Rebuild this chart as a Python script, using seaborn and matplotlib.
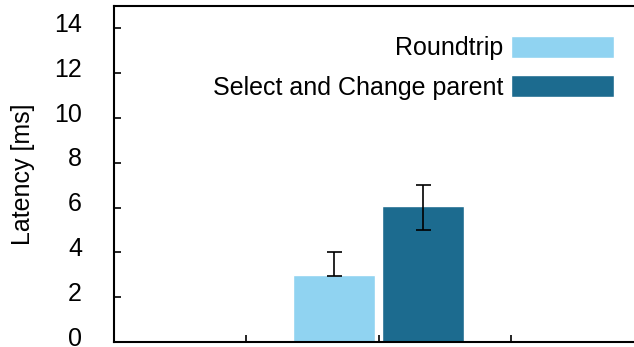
import numpy as np
import pandas as pd
import matplotlib
matplotlib.use("Agg")
import matplotlib.pyplot as plt
import matplotlib.transforms as mtrans
import seaborn as sns

# data
series = ["Roundtrip", "Select and Change parent"]
latency = [3.0, 6.05]
err_low = [2.95, 5.0]
err_high = [4.0, 7.0]
colors = ["#90d3f1", "#1c6b8f"]

df = pd.DataFrame({"group": [""] * len(series), "series": series, "latency": latency})

sns.set_style("ticks")
plt.rcParams["font.family"] = ["Liberation Sans", "DejaVu Sans"]
plt.rcParams["font.size"] = 18
for k in ["text.color", "axes.labelcolor", "xtick.color", "ytick.color"]:
    plt.rcParams[k] = "black"

fig = plt.figure(figsize=(6.34, 3.47), dpi=100)
# axes run past the right edge of the picture, as in the reference
ax = fig.add_axes([114 / 634, 5 / 347, 529 / 634, 336 / 347])

sns.barplot(data=df, x="group", y="latency", hue="series", hue_order=series,
            palette=colors, width=1.34, gap=0.075, errorbar=None,
            saturation=1, ax=ax)

# asymmetric error bars on top of each bar
xs = [p.get_x() + p.get_width() / 2 for p in ax.patches[:len(series)]]
vals = np.array(latency)
yerr = [vals - np.array(err_low), np.array(err_high) - vals]
ax.errorbar(xs, vals, yerr=yerr, fmt="none", ecolor="black",
            elinewidth=1.2, capsize=5.4, capthick=1.2)

ax.set_xlim(-2, 2)
ax.set_ylim(0, 15)
ax.set_xticks([-1, 0, 1])
ax.set_xticklabels([])
ax.set_yticks(range(0, 15, 2))
ax.set_xlabel("")
ax.set_ylabel("Latency [ms]", labelpad=14, fontsize=18)
ax.tick_params(axis="both", direction="in", length=5, width=1.2, color="black")
ax.tick_params(axis="y", pad=23, labelsize=18)
ax.tick_params(axis="x", bottom=True, top=False)
for s in ax.spines.values():
    s.set_visible(True)
    s.set_linewidth(1.5)
    s.set_color("black")

# gnuplot puts the y labels a few pixels above the tick
shift = mtrans.ScaledTranslation(0, 6 / 100, fig.dpi_scale_trans)
for lab in ax.get_yticklabels():
    lab.set_transform(lab.get_transform() + shift)

handles, labels = ax.get_legend_handles_labels()
leg = ax.legend(handles, labels, loc="upper right", frameon=False,
                markerfirst=False, fontsize=18, handlelength=4.12,
                handleheight=0.95, handletextpad=0.32, labelspacing=0.6,
                borderpad=0, borderaxespad=0,
                bbox_to_anchor=(614 / 634, 1 - 36 / 347),
                bbox_transform=fig.transFigure)

fig.savefig("out.png", dpi=100)
